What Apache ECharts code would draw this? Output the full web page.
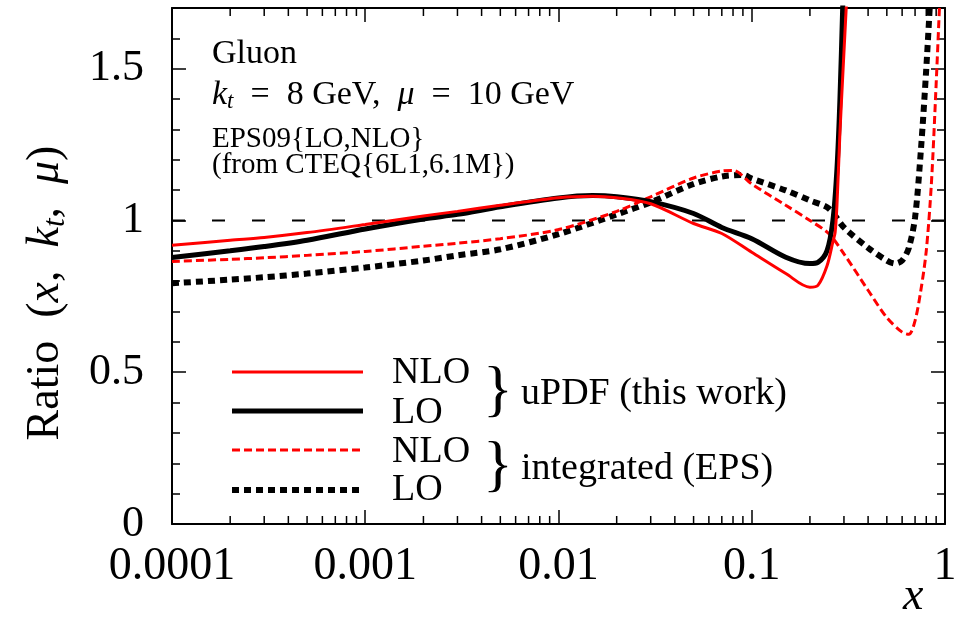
<!DOCTYPE html>
<html>
<head>
<meta charset="utf-8">
<script src="https://cdn.jsdelivr.net/npm/echarts@6/dist/echarts.min.js"></script>
<style>html,body{margin:0;padding:0;background:#fff}#c{width:970px;height:624px}</style>
</head>
<body>
<div id="c"></div>
<script>
// ---- data ----
const xTickLabels = ['0.0001', '0.001', '0.01', '0.1', '1'];
const yTickLabels = ['0', '0.5', '1', '1.5'];

const uPdfNLO_x = [1e-4, 2e-4, 3e-4, 5e-4, 1e-3, 2e-3, 3e-3, 5e-3, 1e-2, 1.5e-2, 2e-2, 3e-2, 5e-2, 0.07, 0.1, 0.15, 0.2, 0.22, 0.245, 0.263, 0.27, 0.276, 0.286, 0.297, 0.311];
const uPdfNLO_y = [0.918, 0.935, 0.944, 0.96, 0.987, 1.015, 1.03, 1.05, 1.075, 1.08, 1.075, 1.055, 0.99, 0.957, 0.895, 0.825, 0.78, 0.786, 0.85, 0.93, 0.96, 1.05, 1.29, 1.5, 1.75];

const uPdfLO_x = [1e-4, 2e-4, 3e-4, 5e-4, 1e-3, 2e-3, 3e-3, 5e-3, 1e-2, 1.5e-2, 2e-2, 3e-2, 5e-2, 0.07, 0.1, 0.15, 0.2, 0.22, 0.245, 0.263, 0.276, 0.286, 0.297];
const uPdfLO_y = [0.878, 0.90, 0.914, 0.935, 0.972, 1.005, 1.02, 1.045, 1.074, 1.082, 1.078, 1.062, 1.023, 0.977, 0.94, 0.879, 0.858, 0.862, 0.90, 1.0, 1.17, 1.40, 1.75];

const epsNLO_x = [1e-4, 2e-4, 3e-4, 5e-4, 1e-3, 2e-3, 3e-3, 5e-3, 1e-2, 2e-2, 3e-2, 5e-2, 0.07, 0.08, 0.1, 0.15, 0.2, 0.25, 0.3, 0.4, 0.5, 0.6, 0.65, 0.7, 0.75, 0.8, 0.85, 0.9, 0.95];
const epsNLO_y = [0.865, 0.872, 0.877, 0.885, 0.898, 0.915, 0.925, 0.94, 0.97, 1.03, 1.078, 1.14, 1.163, 1.165, 1.12, 1.05, 1.0, 0.957, 0.89, 0.77, 0.68, 0.632, 0.625, 0.67, 0.77, 0.90, 1.12, 1.45, 1.8];

const epsLO_x = [1e-4, 2e-4, 3e-4, 5e-4, 1e-3, 2e-3, 3e-3, 5e-3, 1e-2, 2e-2, 3e-2, 5e-2, 0.07, 0.09, 0.1, 0.15, 0.2, 0.25, 0.3, 0.4, 0.5, 0.55, 0.6, 0.65, 0.7, 0.75, 0.8, 0.85];
const epsLO_y = [0.793, 0.805, 0.813, 0.825, 0.845, 0.868, 0.885, 0.905, 0.955, 1.02, 1.06, 1.12, 1.145, 1.15, 1.138, 1.099, 1.066, 1.04, 0.977, 0.91, 0.868, 0.858, 0.868, 0.91, 1.01, 1.23, 1.5, 1.8];

const refLineY = 1;
const xMinorTicks = [2e-4,3e-4,4e-4,5e-4,6e-4,7e-4,8e-4,9e-4,2e-3,3e-3,4e-3,5e-3,6e-3,7e-3,8e-3,9e-3,2e-2,3e-2,4e-2,5e-2,6e-2,7e-2,8e-2,9e-2,0.2,0.3,0.4,0.5,0.6,0.7,0.8,0.9];

// ---- chart ----
const FONT = '"Liberation Serif", "DejaVu Serif", serif';
const zip = (xs, ys) => xs.map((x, i) => [x, ys[i]]);
const chart = echarts.init(document.getElementById('c'), null, {renderer: 'canvas'});

const xAxisCommon = {
  type: 'log', logBase: 10, min: 1e-4, max: 1,
  axisLine: {show: true, onZero: false, lineStyle: {color: '#000', width: 2}},
  axisTick: {show: true, inside: true, length: 14, lineStyle: {color: '#000', width: 1.5}},
  splitLine: {show: false}, minorTick: {show: false}
};
const yAxisCommon = {
  type: 'value', min: 0, max: 1.7, interval: 0.5,
  axisLine: {show: true, lineStyle: {color: '#000', width: 2}},
  axisTick: {show: true, inside: true, length: 14, lineStyle: {color: '#000', width: 1.5}},
  minorTick: {show: true, splitNumber: 5, length: 8, lineStyle: {color: '#000', width: 1.5}},
  splitLine: {show: false}
};

function txt(x, y, text, font, extra) {
  return Object.assign({
    type: 'text', x: x, y: y,
    style: {text: text, font: font, fill: '#000', textAlign: 'left', textVerticalAlign: 'middle', align: 'left', verticalAlign: 'middle'}
  }, extra || {});
}

const option = {
  animation: false,
  backgroundColor: '#fff',
  grid: {left: 172, right: 25, top: 8, bottom: 100, containLabel: false},
  xAxis: [
    Object.assign({}, xAxisCommon, {
      position: 'bottom',
      axisLabel: {show: true, margin: 20, fontFamily: FONT, fontSize: 46, color: '#000',
        formatter: v => xTickLabels[Math.round(Math.log10(v)) + 4]}
    }),
    Object.assign({}, xAxisCommon, {position: 'top', axisLabel: {show: false}})
  ],
  yAxis: [
    Object.assign({}, yAxisCommon, {
      position: 'left',
      axisLabel: {show: true, margin: 28, fontFamily: FONT, fontSize: 44, color: '#000',
        formatter: v => { const i = Math.round(v / 0.5); return (Math.abs(v - i * 0.5) < 1e-6 && yTickLabels[i]) ? yTickLabels[i] : ''; }}
    }),
    Object.assign({}, yAxisCommon, {position: 'right', axisLabel: {show: false}})
  ],
  series: [
    {
      name: 'ref', type: 'line', symbol: 'none', silent: true,
      data: [[1e-4, refLineY], [1, refLineY]],
      lineStyle: {color: '#000', width: 2, type: [13, 27]}, z: 1
    },
    {
      name: 'EPS LO', type: 'line', symbol: 'none', smooth: 0.3, clip: true,
      data: zip(epsLO_x, epsLO_y),
      lineStyle: {color: '#000', width: 6, type: [7, 5]}, z: 2
    },
    {
      name: 'EPS NLO', type: 'line', symbol: 'none', smooth: 0.3, clip: true,
      data: zip(epsNLO_x, epsNLO_y),
      lineStyle: {color: '#ff0000', width: 3, type: [8, 4]}, z: 3
    },
    {
      name: 'uPDF LO', type: 'line', symbol: 'none', smooth: 0.3, clip: true,
      data: zip(uPdfLO_x, uPdfLO_y),
      lineStyle: {color: '#000', width: 5}, z: 4
    },
    {
      name: 'uPDF NLO', type: 'line', symbol: 'none', smooth: 0.3, clip: true,
      data: zip(uPdfNLO_x, uPdfNLO_y),
      lineStyle: {color: '#ff0000', width: 3}, z: 5
    },
    {
      name: 'minorTicks', type: 'custom', silent: true, clip: false,
      data: xMinorTicks.map(v => [v]),
      renderItem: function (params, api) {
        const p = api.coord([api.value(0), 0]);
        const top = params.coordSys.y;
        const bottom = params.coordSys.y + params.coordSys.height;
        return {
          type: 'group',
          children: [
            {type: 'line', shape: {x1: p[0], y1: bottom, x2: p[0], y2: bottom - 8}, style: {stroke: '#000', lineWidth: 1.5}},
            {type: 'line', shape: {x1: p[0], y1: top, x2: p[0], y2: top + 8}, style: {stroke: '#000', lineWidth: 1.5}}
          ]
        };
      }
    }
  ],
  graphic: [
    // y-axis title (rotated)
    {type: 'text', x: 46, y: 293, rotation: Math.PI / 2,
      style: {
        text: '{n|Ratio  (}{i|x}{n|,  }{i|k}{s|t}{n|,  }{i|μ}{n|)}',
        textAlign: 'center', textVerticalAlign: 'middle', align: 'center', verticalAlign: 'middle',
        rich: {
          n: {font: '46px ' + FONT, fill: '#000'},
          i: {font: 'italic 46px ' + FONT, fill: '#000'},
          s: {font: 'italic 31px ' + FONT, fill: '#000', padding: [20, 0, 0, 0]}
        }
      }},
    // x-axis title
    txt(903, 597, 'x', 'italic 46px ' + FONT),
    // annotations
    txt(212, 54, 'Gluon', '34px ' + FONT),
    {type: 'text', x: 212, y: 95, style: {
      text: '{i|k}{s|t}{n|  =  8 GeV,  }{i|μ}{n|  =  10 GeV}',
      textAlign: 'left', textVerticalAlign: 'middle', align: 'left', verticalAlign: 'middle',
      rich: {
        n: {font: '34px ' + FONT, fill: '#000'},
        i: {font: 'italic 34px ' + FONT, fill: '#000'},
        s: {font: 'italic 23px ' + FONT, fill: '#000', padding: [14, 0, 0, 0]}
      }}},
    txt(212, 139, 'EPS09{LO,NLO}', '29px ' + FONT),
    txt(212, 165, '(from CTEQ{6L1,6.1M})', '29px ' + FONT),
    // legend
    {type: 'line', shape: {x1: 232, y1: 372, x2: 363, y2: 372}, style: {stroke: '#ff0000', lineWidth: 3}},
    {type: 'line', shape: {x1: 232, y1: 411, x2: 363, y2: 411}, style: {stroke: '#000', lineWidth: 5}},
    {type: 'line', shape: {x1: 232, y1: 450, x2: 363, y2: 450}, style: {stroke: '#ff0000', lineWidth: 3, lineDash: [8, 4]}},
    {type: 'line', shape: {x1: 232, y1: 490, x2: 363, y2: 490}, style: {stroke: '#000', lineWidth: 6, lineDash: [7, 5]}},
    txt(392, 373, 'NLO', '38px ' + FONT),
    txt(392, 413, 'LO', '38px ' + FONT),
    txt(392, 452, 'NLO', '38px ' + FONT),
    txt(392, 490, 'LO', '38px ' + FONT),
    txt(483, 393, '}', '62px ' + FONT),
    txt(483, 468, '}', '62px ' + FONT),
    txt(521, 394, 'uPDF (this work)', '38px ' + FONT),
    txt(521, 469, 'integrated (EPS)', '38px ' + FONT)
  ]
};
chart.setOption(option);
</script>
</body>
</html>
